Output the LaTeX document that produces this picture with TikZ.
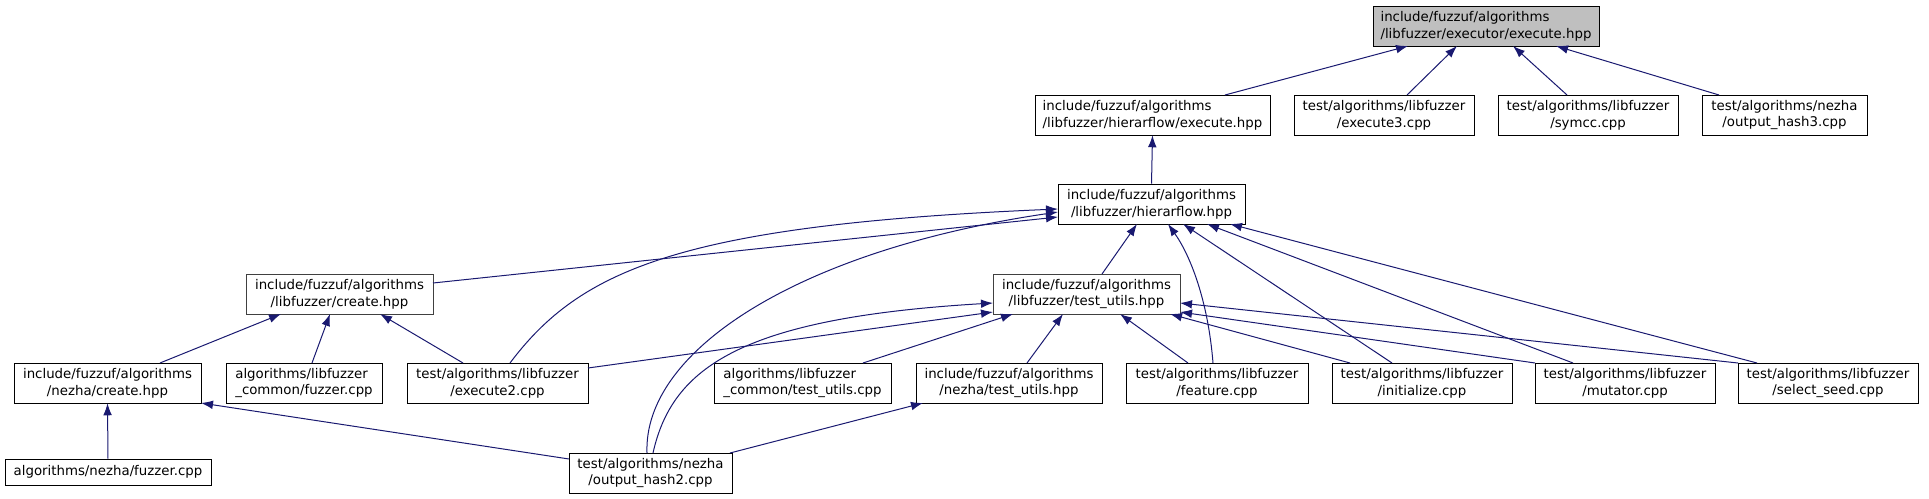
\documentclass[tikz,border=0pt]{standalone}
\usepackage{fontspec}
\setmainfont{DejaVu Sans}
\usetikzlibrary{arrows.meta,calc}
\definecolor{EdgeBlue}{RGB}{25,25,112}
\definecolor{RootGray}{RGB}{191,191,191}
\tikzset{
  filenode/.style={draw=black,fill=white,inner sep=0pt,minimum height=30pt,
    align=center,font=\fontsize{10}{12.5}\selectfont},
  rootnode/.style={filenode,fill=RootGray,align=left},
  hubnode/.style={filenode,draw=black!75},
  wd/.style={minimum width=#1*0.75pt},
  depends/.style={-{Latex[length=9pt,width=6.5pt]},draw=EdgeBlue,line width=0.75pt}
}
\begin{document}
\begin{tikzpicture}[x=0.75pt,y=-0.75pt]
      \useasboundingbox (0,0) rectangle (1929,499);
      \node[rootnode,wd=226] (execute) at (1486,26) {include/fuzzuf/algorithms\\/libfuzzer/executor/execute.hpp};
      \node[filenode,wd=235,align=left] (hierexec) at (1152.5,115) {include/fuzzuf/algorithms\\/libfuzzer/hierarflow/execute.hpp};
      \node[filenode,wd=180] (execthree) at (1384,115) {test/algorithms/libfuzzer\\/execute3.cpp};
      \node[filenode,wd=180] (symcc) at (1588,115) {test/algorithms/libfuzzer\\/symcc.cpp};
      \node[filenode,wd=165] (hashthree) at (1784.5,115) {test/algorithms/nezha\\/output\_hash3.cpp};
      \node[filenode,wd=187] (hierflow) at (1151.5,204) {include/fuzzuf/algorithms\\/libfuzzer/hierarflow.hpp};
      \node[hubnode,wd=187] (create) at (339.5,294) {include/fuzzuf/algorithms\\/libfuzzer/create.hpp};
      \node[hubnode,wd=187] (testutils) at (1086.5,294) {include/fuzzuf/algorithms\\/libfuzzer/test\_utils.hpp};
      \node[filenode,wd=187] (nezhacreate) at (107.5,383) {include/fuzzuf/algorithms\\/nezha/create.hpp};
      \node[filenode,wd=156,align=left] (commonfuzzer) at (304,383) {algorithms/libfuzzer\\\_common/fuzzer.cpp};
      \node[filenode,wd=181] (exectwo) at (497.5,383) {test/algorithms/libfuzzer\\/execute2.cpp};
      \node[filenode,wd=177,align=left] (commonutils) at (802.5,383) {algorithms/libfuzzer\\\_common/test\_utils.cpp};
      \node[filenode,wd=186] (nezhautils) at (1009,383) {include/fuzzuf/algorithms\\/nezha/test\_utils.hpp};
      \node[filenode,wd=182] (feature) at (1217,383) {test/algorithms/libfuzzer\\/feature.cpp};
      \node[filenode,wd=180] (initialize) at (1422,383) {test/algorithms/libfuzzer\\/initialize.cpp};
      \node[filenode,wd=180] (mutator) at (1625,383) {test/algorithms/libfuzzer\\/mutator.cpp};
      \node[filenode,wd=180] (selectseed) at (1828,383) {test/algorithms/libfuzzer\\/select\_seed.cpp};
      \node[filenode,wd=206,minimum height=19.5pt] (nezhafuzzer) at (108,472) {algorithms/nezha/fuzzer.cpp};
      \node[filenode,wd=163] (hashtwo) at (650.5,473) {test/algorithms/nezha\\/output\_hash2.cpp};
      \draw[depends] ($(hierexec)+(72.5,-20)$) -- ($(execute)+(-78,20)$);
      \draw[depends] ($(execthree)+(23,-20)$) -- ($(execute)+(-29,20)$);
      \draw[depends] ($(symcc)+(-21,-20)$) -- ($(execute)+(27,20)$);
      \draw[depends] ($(hashthree)+(-65.5,-20)$) -- ($(execute)+(70,20)$);
      \draw[depends] (hierflow.north) -- (hierexec.south);
      \draw[depends] ($(create)+(93.5,-11)$) -- ($(hierflow)+(-93.5,13)$);
      \draw[depends] ($(exectwo)+(12.5,-20)$) .. controls (580,270) and (680,225) .. ($(hierflow)+(-93.5,5)$);
      \draw[depends] ($(hashtwo)+(-3.5,-20)$) .. controls (643,350) and (800,250) .. ($(hierflow)+(-93.5,8)$);
      \draw[depends] ($(testutils)+(15.5,-20)$) -- ($(hierflow)+(-14.5,20)$);
      \draw[depends] ($(feature)+(-4,-20)$) .. controls (1208,300) and (1190,255) .. ($(hierflow)+(16.5,20)$);
      \draw[depends] ($(initialize)+(-30,-20)$) -- ($(hierflow)+(31.5,20)$);
      \draw[depends] ($(mutator)+(-52,-20)$) -- ($(hierflow)+(55.5,20)$);
      \draw[depends] ($(selectseed)+(-71,-20)$) -- ($(hierflow)+(78.5,20)$);
      \draw[depends] ($(nezhacreate)+(52.5,-20)$) -- ($(create)+(-58.5,20)$);
      \draw[depends] ($(commonfuzzer)+(8,-20)$) -- ($(create)+(-9.5,20)$);
      \draw[depends] ($(exectwo)+(-34.5,-20)$) -- ($(create)+(40.5,20)$);
      \draw[depends] ($(exectwo)+(90.5,-15)$) -- ($(testutils)+(-93.5,18)$);
      \draw[depends] ($(hashtwo)+(2.5,-20)$) .. controls (672,368) and (740,318) .. ($(testutils)+(-93.5,9)$);
      \draw[depends] ($(commonutils)+(60.5,-20)$) -- ($(testutils)+(-73.5,20)$);
      \draw[depends] ($(nezhautils)+(18,-20)$) -- ($(testutils)+(-23.5,20)$);
      \draw[depends] ($(feature)+(-29,-20)$) -- ($(testutils)+(33.5,20)$);
      \draw[depends] ($(initialize)+(-72,-20)$) -- ($(testutils)+(83.5,20)$);
      \draw[depends] ($(mutator)+(-90,-20)$) -- ($(testutils)+(93.5,18)$);
      \draw[depends] ($(selectseed)+(-90,-20)$) -- ($(testutils)+(93.5,9)$);
      \draw[depends] (nezhafuzzer.north) -- (nezhacreate.south);
      \draw[depends] ($(hashtwo)+(-81.5,-14)$) -- ($(nezhacreate)+(93.5,20)$);
      \draw[depends] ($(hashtwo)+(79.5,-20)$) -- ($(nezhautils)+(-86,20)$);
    \end{tikzpicture}
\end{document}
